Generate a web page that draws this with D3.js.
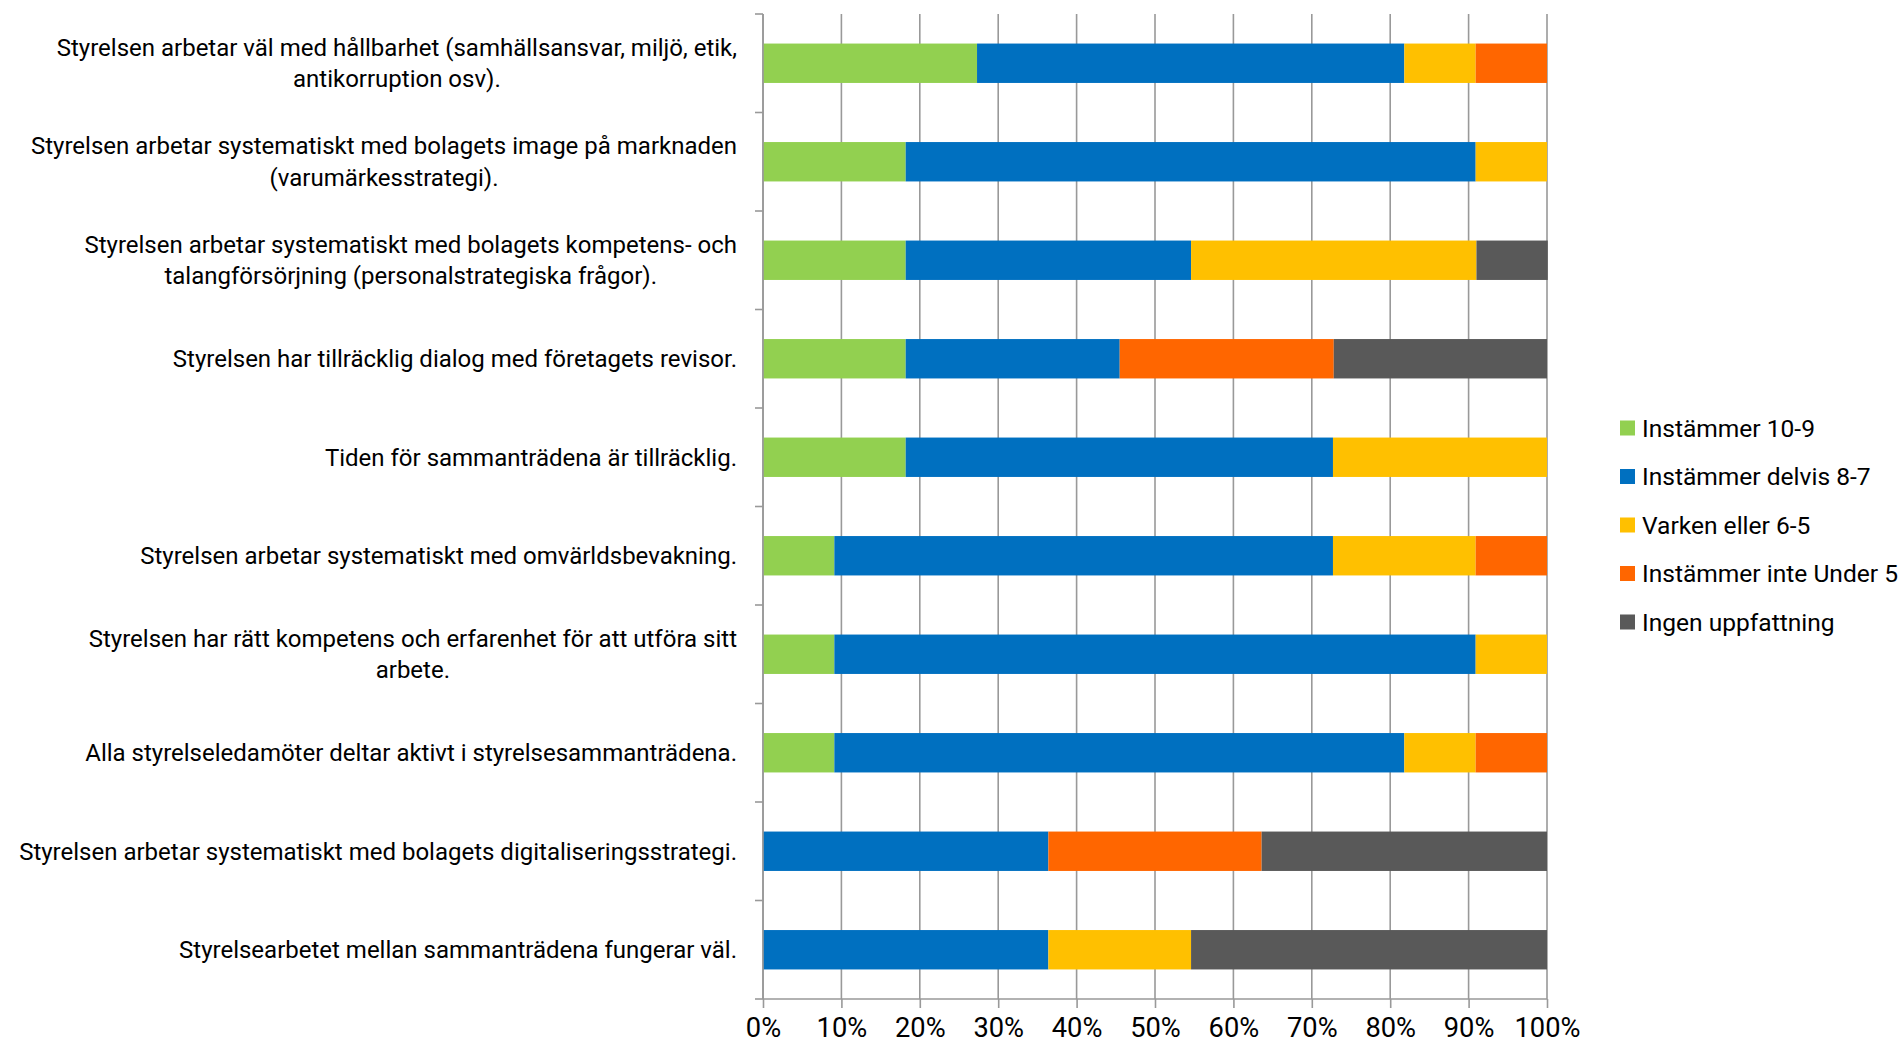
<!DOCTYPE html>
<html>
<head>
<meta charset="utf-8">
<script src="https://cdn.jsdelivr.net/npm/d3@7"></script>
<style>
  body { margin: 0; background: #fff; }
  svg text { font-family: Roboto, "Liberation Sans", sans-serif; fill: #000; }
</style>
</head>
<body>
<div id="chart"></div>
<script>
/* Question labels, already broken into lines as in the source chart */
var questions = [
    ["Styrelsen arbetar väl med hållbarhet (samhällsansvar, miljö, etik,", "antikorruption osv)."],
    ["Styrelsen arbetar systematiskt med bolagets image på marknaden", "(varumärkesstrategi)."],
    ["Styrelsen arbetar systematiskt med bolagets kompetens- och", "talangförsörjning (personalstrategiska frågor)."],
    ["Styrelsen har tillräcklig dialog med företagets revisor."],
    ["Tiden för sammanträdena är tillräcklig."],
    ["Styrelsen arbetar systematiskt med omvärldsbevakning."],
    ["Styrelsen har rätt kompetens och erfarenhet för att utföra sitt", "arbete."],
    ["Alla styrelseledamöter deltar aktivt i styrelsesammanträdena."],
    ["Styrelsen arbetar systematiskt med bolagets digitaliseringsstrategi."],
    ["Styrelsearbetet mellan sammanträdena fungerar väl."]
];

/* Answer categories */
var seriesNames = ["Instämmer 10-9", "Instämmer delvis 8-7", "Varken eller 6-5", "Instämmer inte Under 5", "Ingen uppfattning"];
var seriesColors = ["#92d050", "#0070c0", "#ffc000", "#ff6600", "#595959"];

/* Share of answers (%) per question, one array per category */
var instammer   = [27.3, 18.2, 18.2, 18.2, 18.2,  9.1,  9.1,  9.1,  0.0,  0.0];
var delvis      = [54.5, 72.7, 36.4, 27.3, 54.5, 63.6, 81.8, 72.7, 36.4, 36.4];
var varken      = [ 9.1,  9.1, 36.4,  0.0, 27.3, 18.2,  9.1,  9.1,  0.0, 18.2];
var instammerEj = [ 9.1,  0.0,  0.0, 27.3,  0.0,  9.1,  0.0,  9.1, 27.2,  0.0];
var ingen       = [ 0.0,  0.0,  9.1, 27.2,  0.0,  0.0,  0.0,  0.0, 36.4, 45.4];

var xTicks = [0, 10, 20, 30, 40, 50, 60, 70, 80, 90, 100];

var width = 1904, height = 1045;
var margin = {top: 14, right: 357, bottom: 46, left: 763};
var plotW = width - margin.left - margin.right,
    plotH = height - margin.top - margin.bottom;

var svg = d3.select("#chart").append("svg")
    .attr("width", width)
    .attr("height", height);

var g = svg.append("g")
    .attr("transform", "translate(" + margin.left + "," + margin.top + ")");

// build rows for the stack
var rows = questions.map(function (q, i) {
    return {
        i: i,
        s0: instammer[i], s1: delvis[i], s2: varken[i], s3: instammerEj[i], s4: ingen[i]
    };
});
var keys = ["s0", "s1", "s2", "s3", "s4"];
var stacked = d3.stack().keys(keys)(rows);

var x = d3.scaleLinear().domain([0, 100]).range([0, plotW]);
var y = d3.scaleBand()
    .domain(d3.range(questions.length))
    .range([0, plotH])
    .paddingInner(0.6)
    .paddingOuter(0.3);
var step = y.step();

// the original uses Calibri; size the fallback font so text widths match
function fitSize(str, target) {
    var probe = svg.append("text").attr("font-size", 20).text(str);
    var s = 20 * target / probe.node().getComputedTextLength();
    probe.remove();
    return s;
}
var labelSize = fitSize(questions[8][0], 718);
var legendSize = fitSize(seriesNames[3], 256);
var tickSize = fitSize("100%", 66);

// vertical grid lines
g.append("g")
    .selectAll("line")
    .data(xTicks)
    .enter().append("line")
    .attr("x1", function (d) { return x(d); })
    .attr("x2", function (d) { return x(d); })
    .attr("y1", 0)
    .attr("y2", plotH)
    .attr("stroke", "#999")
    .attr("stroke-width", 1.6);

// bars
g.selectAll(".series")
    .data(stacked)
    .enter().append("g")
    .attr("class", "series")
    .attr("fill", function (d, i) { return seriesColors[i]; })
    .selectAll("rect")
    .data(function (d) { return d; })
    .enter().append("rect")
    .attr("x", function (d) { return x(d[0]); })
    .attr("width", function (d) { return x(d[1]) - x(d[0]); })
    .attr("y", function (d) { return y(d.data.i); })
    .attr("height", y.bandwidth());

// y axis line and ticks at the band boundaries
var yAxis = g.append("g");
yAxis.append("line")
    .attr("x1", 0).attr("x2", 0)
    .attr("y1", 0).attr("y2", plotH)
    .attr("stroke", "#999").attr("stroke-width", 1.6);
yAxis.selectAll(".ytick")
    .data(d3.range(questions.length + 1))
    .enter().append("line")
    .attr("class", "ytick")
    .attr("x1", -8).attr("x2", 0)
    .attr("y1", function (d) { return d * step; })
    .attr("y2", function (d) { return d * step; })
    .attr("stroke", "#999").attr("stroke-width", 1.6);

// x axis
var xAxis = g.append("g")
    .attr("transform", "translate(0," + plotH + ")")
    .call(d3.axisBottom(x)
        .tickValues(xTicks)
        .tickSize(9)
        .tickPadding(10)
        .tickFormat(function (d) { return d + "%"; }));
xAxis.selectAll("line, path").attr("stroke", "#999").attr("stroke-width", 1.6);
xAxis.select(".domain").attr("d", "M0,0H" + plotW);
xAxis.selectAll("text")
    .attr("font-size", tickSize)
    .attr("font-family", "Roboto, 'Liberation Sans', sans-serif")
    .attr("fill", "#000");

// question labels: block right aligned, lines centered in the block
var lineH = 31.5;
var labels = g.selectAll(".qlabel")
    .data(questions)
    .enter().append("text")
    .attr("class", "qlabel")
    .attr("font-size", labelSize)
    .attr("text-anchor", "middle");

labels.each(function (lines, i) {
    var t = d3.select(this);
    var cy = y(i) + y.bandwidth() / 2;
    lines.forEach(function (line, j) {
        t.append("tspan")
            .attr("x", 0)
            .attr("y", cy + (j - (lines.length - 1) / 2) * lineH)
            .attr("dy", "0.35em")
            .text(line);
    });
    var w = d3.max(t.selectAll("tspan").nodes(), function (n) { return n.getComputedTextLength(); });
    t.selectAll("tspan").attr("x", -26 - w / 2);
});

// legend
var legend = svg.append("g")
    .attr("transform", "translate(1620,428)");
var item = legend.selectAll(".item")
    .data(seriesNames)
    .enter().append("g")
    .attr("class", "item")
    .attr("transform", function (d, i) { return "translate(0," + (i * 48.5) + ")"; });
item.append("rect")
    .attr("x", 0).attr("y", -7.5)
    .attr("width", 15).attr("height", 15)
    .attr("fill", function (d, i) { return seriesColors[i]; });
item.append("text")
    .attr("x", 22)
    .attr("y", 0)
    .attr("dy", "0.35em")
    .attr("font-size", legendSize)
    .text(function (d) { return d; });
</script>
</body>
</html>
